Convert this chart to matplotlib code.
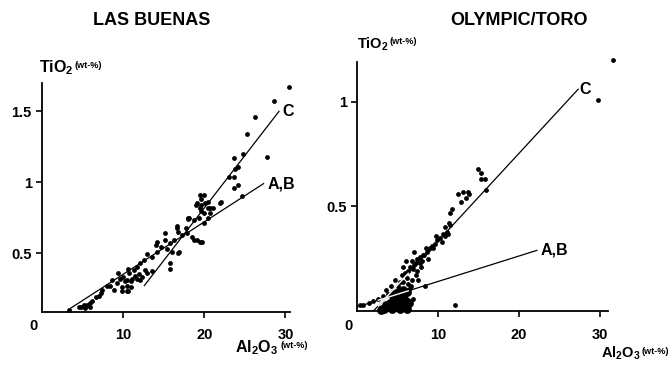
import matplotlib
matplotlib.use("Agg")
import matplotlib.pyplot as plt

plt.rcParams['font.family'] = ['Liberation Sans Narrow', 'Liberation Sans', 'DejaVu Sans']
plt.rcParams['font.weight'] = 'bold'
plt.rcParams['mathtext.fontset'] = 'custom'
plt.rcParams['mathtext.bf'] = 'Liberation Sans:bold'
plt.rcParams['mathtext.rm'] = 'Liberation Sans:bold'

# Las Buenas: Al2O3 vs TiO2 (wt-%)
lb_al = [30.4, 28.6, 26.3, 25.3, 27.7, 23.6, 24.8, 24.1, 23.8, 23.0, 23.6, 23.6, 24.2, 24.7,
         22.0, 19.4, 20.0, 19.6, 20.1, 19.1, 20.5, 20.7, 21.1, 19.5, 19.9, 19.3, 18.7, 18.0,
         20.5, 17.7, 16.6, 16.8, 17.3, 17.9, 18.5, 19.1, 19.7, 16.2, 15.8, 15.2, 14.6, 15.4,
         16.0, 16.8, 14.0, 14.2, 13.5, 12.9, 12.5, 12.1, 11.7, 11.3, 10.7, 10.0, 9.6, 10.4,
         11.1, 11.7, 12.3, 12.9, 13.5, 9.2, 9.8, 10.4, 8.6, 8.0, 8.8, 10.6, 9.4, 10.6, 9.8,
         7.4, 7.2, 6.7, 5.9, 5.5, 5.1, 4.5, 5.9, 5.3, 3.3, 15.8, 15.8, 18.1, 15.2, 14.1, 8.4,
         12.7, 12.1, 10.9, 10.5, 19.0, 19.6, 20.4, 20.7, 21.9, 19.6, 18.0, 19.9, 16.6, 16.9,
         19.5, 18.7, 6.2, 4.8, 7.0, 11.0, 10.2, 11.5, 12.0]
lb_ti = [1.67, 1.57, 1.46, 1.34, 1.18, 1.17, 1.20, 1.11, 1.09, 1.04, 1.04, 0.96, 0.98, 0.90,
         0.86, 0.91, 0.91, 0.88, 0.85, 0.85, 0.86, 0.82, 0.82, 0.82, 0.78, 0.75, 0.73, 0.75,
         0.75, 0.68, 0.68, 0.65, 0.63, 0.64, 0.61, 0.59, 0.58, 0.59, 0.57, 0.59, 0.54, 0.53,
         0.51, 0.50, 0.56, 0.51, 0.47, 0.49, 0.45, 0.43, 0.40, 0.38, 0.36, 0.33, 0.32, 0.31,
         0.32, 0.32, 0.33, 0.36, 0.37, 0.29, 0.26, 0.27, 0.31, 0.27, 0.24, 0.23, 0.36, 0.39, 0.23,
         0.24, 0.22, 0.19, 0.15, 0.13, 0.13, 0.12, 0.12, 0.11, 0.10, 0.43, 0.39, 0.75, 0.64, 0.58, 0.27,
         0.38, 0.31, 0.26, 0.23, 0.84, 0.84, 0.82, 0.78, 0.85, 0.80, 0.74, 0.71, 0.69, 0.51,
         0.58, 0.59, 0.16, 0.12, 0.20, 0.30, 0.30, 0.34, 0.35]
lb_line_c = ([12.6, 29.2], [0.27, 1.50])
lb_line_ab = ([3.5, 27.3], [0.11, 0.99])

# Olympic/Toro
ot_al = [31.6, 29.8, 15.3, 15.3, 15.8, 15.9, 13.8, 13.5, 12.8, 14.9, 13.7, 13.1, 12.5, 11.7,
         11.5, 11.5, 11.1, 11.2, 10.6, 10.2, 9.9, 9.6, 9.2, 9.0, 9.4, 8.6, 8.2, 7.8, 7.4, 8.0,
         7.2, 6.8, 6.5, 6.9, 6.3, 7.4, 7.5, 6.8, 5.7, 5.9, 6.2, 4.7, 5.3, 5.7, 6.3, 8.4, 6.5,
         5.1, 4.4, 3.8, 3.2, 2.6, 2.0, 1.4, 0.7, 0.4, 6.9, 12.1, 10.8, 8.8, 7.0, 5.0,
         8.5, 9.7, 10.9, 7.7, 8.8, 7.0, 6.0, 10.5, 11.3, 5.5, 4.2, 3.5, 7.2, 6.6, 7.9, 8.1]
ot_ti = [1.20, 1.01, 0.66, 0.63, 0.63, 0.58, 0.56, 0.54, 0.52, 0.68, 0.57, 0.57, 0.56, 0.49,
         0.47, 0.41, 0.38, 0.37, 0.37, 0.35, 0.34, 0.32, 0.31, 0.30, 0.30, 0.28, 0.27, 0.26, 0.25, 0.24,
         0.23, 0.24, 0.21, 0.20, 0.19, 0.19, 0.15, 0.15, 0.21, 0.18, 0.16, 0.15, 0.14, 0.14, 0.13, 0.12, 0.11,
         0.10, 0.09, 0.08, 0.07, 0.06, 0.05, 0.04, 0.03, 0.03, 0.06, 0.03, 0.36, 0.29, 0.22, 0.12,
         0.30, 0.36, 0.40, 0.23, 0.25, 0.28, 0.24, 0.33, 0.42, 0.17, 0.12, 0.10, 0.17, 0.12, 0.21, 0.27]
# dense cluster near the origin
ot_blob_al = [3.3, 3.8, 4.3, 4.8, 5.3, 5.8, 6.2, 4.0, 4.5, 5.0, 5.5, 6.0, 4.8, 5.3, 5.8,
              3.6, 5.6, 6.1, 4.4, 3.1, 2.9, 6.4, 5.0]
ot_blob_ti = [0.01, 0.02, 0.01, 0.02, 0.01, 0.02, 0.01, 0.04, 0.05, 0.04, 0.05, 0.05, 0.07, 0.08, 0.08,
              0.03, 0.10, 0.09, 0.07, 0.01, 0.005, 0.04, 0.09]
ot_line_c = ([2.0, 27.3], [0.0, 1.06])
ot_line_ab = ([0.0, 22.2], [0.02, 0.29])

fig = plt.figure(figsize=(6.69, 3.69), dpi=100)
ax1 = fig.add_axes([0.063, 0.155, 0.371, 0.62])
ax2 = fig.add_axes([0.534, 0.157, 0.375, 0.675])

for ax in (ax1, ax2):
    ax.spines['top'].set_visible(False)
    ax.spines['right'].set_visible(False)
    ax.spines['left'].set_linewidth(1.3)
    ax.spines['bottom'].set_linewidth(1.3)
    ax.tick_params(direction='out', length=4, width=1.2, labelsize=10.5)
    ax.tick_params(axis='x', pad=8)
    ax.set_xticks([10, 20, 30])
    ax.text(-0.02, -0.03, '0', transform=ax.transAxes, ha='right', va='top',
            fontsize=10.5, fontweight='bold')

# Las Buenas
ax1.scatter(lb_al, lb_ti, s=12, c='black', linewidths=0, clip_on=False, zorder=3)
ax1.plot(*lb_line_c, color='black', lw=0.9)
ax1.plot(*lb_line_ab, color='black', lw=0.9)
ax1.set_xlim(0, 30.6)
ax1.set_ylim(0.085, 1.70)
ax1.set_yticks([0.5, 1, 1.5])
ax1.set_yticklabels(['0.5', '1', '1.5'])
ax1.text(29.6, 1.50, 'C', fontsize=11.5, fontweight='bold', va='center', ha='left')
ax1.text(27.8, 0.99, 'A,B', fontsize=11.5, fontweight='bold', va='center', ha='left')

# Olympic/Toro
ax2.scatter(ot_al, ot_ti, s=12, c='black', linewidths=0, clip_on=False, zorder=3)
ax2.scatter(ot_blob_al, ot_blob_ti, s=40, c='black', linewidths=0, clip_on=False, zorder=3)
ax2.plot(*ot_line_c, color='black', lw=0.9, zorder=2)
ax2.plot(*ot_line_ab, color='black', lw=0.9, zorder=2)
# lines show white where they cross the dense cluster
for xs, ys in (ot_line_c, ot_line_ab):
    x0, x1 = 2.6, 6.3
    k = (ys[1] - ys[0]) / (xs[1] - xs[0])
    ax2.plot([x0, x1], [ys[0] + k * (x0 - xs[0]), ys[0] + k * (x1 - xs[0])],
             color='white', lw=1.0, zorder=4)
ax2.set_xlim(0, 31)
ax2.set_ylim(0.0, 1.19)
ax2.set_yticks([0.5, 1])
ax2.set_yticklabels(['0.5', '1'])
ax2.text(27.5, 1.06, 'C', fontsize=11.5, fontweight='bold', va='center', ha='left')
ax2.text(22.6, 0.29, 'A,B', fontsize=11.5, fontweight='bold', va='center', ha='left')

# titles and axis labels
fig.text(0.226, 0.945, 'LAS BUENAS', ha='center', va='center', fontsize=13, fontweight='bold')
fig.text(0.776, 0.945, 'OLYMPIC/TORO', ha='center', va='center', fontsize=13, fontweight='bold')

def axis_label(x, y, chem, size=11.5):
    t = fig.text(x, y, chem, ha='left', va='baseline', fontsize=size)
    fig.canvas.draw()
    bb = t.get_window_extent()
    fig.text(bb.x1 / fig.bbox.width + 0.002, y + 0.012, '(wt-%)', ha='left',
             va='baseline', fontsize=6.5, fontweight='bold')

axis_label(0.058, 0.805, r'$\mathbf{TiO_2}$')
axis_label(0.533, 0.868, r'$\mathbf{TiO_2}$', 10.5)
axis_label(0.352, 0.045, r'$\mathbf{Al_2O_3}$')
axis_label(0.898, 0.03, r'$\mathbf{Al_2O_3}$', 10.5)

fig.savefig('out.png', dpi=100)
